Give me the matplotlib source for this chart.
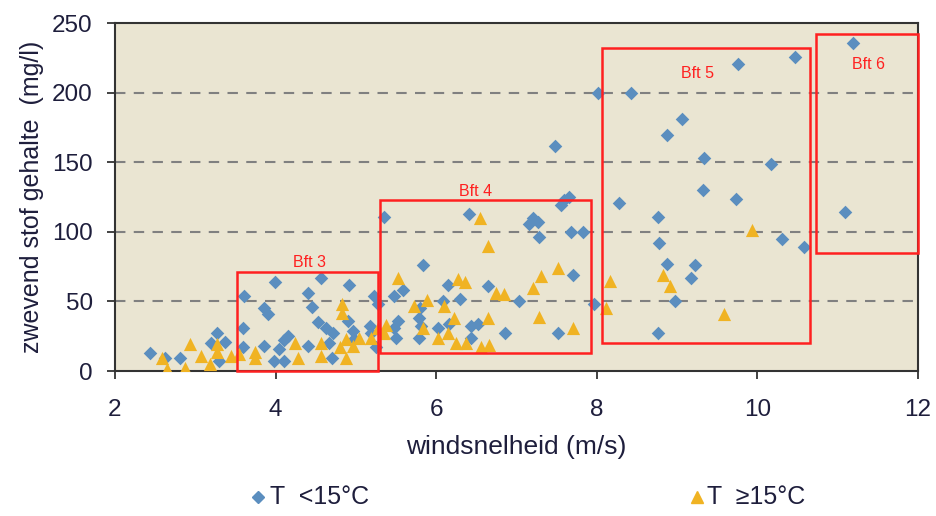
import matplotlib
matplotlib.use("Agg")
import matplotlib.pyplot as plt
from matplotlib.patches import Rectangle
from matplotlib.lines import Line2D

plt.rcParams['font.family'] = ['Liberation Sans', 'DejaVu Sans']

# ================= DATA ===================
# T < 15 C  (wind speed m/s, suspended matter mg/l)
cold_x = [2.44, 2.62, 2.81, 3.27, 3.37, 3.20, 3.30, 3.61, 3.86, 3.91, 3.60, 3.60, 3.86, 3.98,
          3.99, 4.56, 4.91, 4.41, 4.45, 5.23, 5.27, 4.53, 4.63, 4.72, 4.90, 4.97, 5.17, 5.19,
          4.16, 4.11, 4.04, 4.41, 4.67, 4.11, 4.70, 4.98, 5.25, 5.35, 6.41, 5.83, 6.15, 6.30,
          6.65, 5.48, 5.59, 6.09, 5.80, 5.78, 5.53, 5.47, 5.81, 5.78, 6.02, 6.16, 6.43, 6.52,
          6.43, 5.50, 7.59, 7.65, 7.55, 7.20, 7.27, 7.16, 7.28, 7.68, 7.83, 7.71, 7.03, 7.96,
          6.86, 7.52, 7.48, 11.19, 10.47, 9.76, 8.01, 8.43, 9.06, 8.87, 9.34, 10.17, 9.32, 9.74,
          8.28, 8.76, 11.09, 10.31, 10.58, 8.78, 8.87, 9.22, 9.17, 8.98, 8.76]
cold_y = [13, 9, 9, 27, 21, 20, 7, 54, 45, 41, 31, 17, 18, 7,
          64, 67, 62, 56, 46, 54, 48, 35, 31, 27, 36, 29, 32.5, 27,
          25, 22, 16, 18, 20, 7, 9, 23, 17, 111, 113, 76, 62, 52,
          61, 54, 58, 50, 45, 38, 36, 31, 32.5, 24, 31, 34, 32.5, 34,
          24, 24, 123, 125, 119, 110, 107, 106, 96, 100, 100, 69, 50, 48,
          27, 27, 162, 236, 226, 221, 200, 200, 181, 170, 153, 149, 130, 124,
          121, 111, 114, 95, 89, 92, 77, 76, 67, 50, 27]

# T >= 15 C
warm_x = [2.93, 2.58, 2.65, 2.87, 3.07, 3.27, 3.27, 3.18, 3.45, 3.55, 3.75, 3.75, 4.83, 4.83,
          4.24, 4.28, 4.56, 4.56, 4.80, 4.88, 4.88, 5.04, 5.19, 4.97, 5.38, 6.55, 6.65, 5.53,
          6.27, 6.36, 5.72, 5.88, 6.10, 6.22, 5.84, 6.02, 6.15, 6.25, 6.37, 6.56, 6.65, 5.35,
          5.28, 7.52, 7.30, 7.21, 6.75, 6.85, 7.28, 7.71, 6.66, 9.93, 8.16, 8.82, 8.91, 8.11, 9.59]
warm_y = [19.5, 9, 1.5, 2, 11, 19.5, 14, 5, 11, 12, 14, 9, 48, 42,
          20, 9, 20, 11, 17, 23, 9, 24, 24, 18, 33, 110, 90, 67,
          66, 64, 47, 51, 47, 38, 31, 24, 27, 20, 20, 17, 38, 27,
          31, 74, 68, 60, 56, 55, 39, 31, 19, 101, 65, 69, 61, 45, 41]

# Beaufort boxes: label, x0, x1, y0, y1, label position
bft_labels = ['Bft 3', 'Bft 4', 'Bft 5', 'Bft 6']
bft_x0 = [3.52, 5.30, 8.07, 10.73]
bft_x1 = [5.27, 7.93, 10.65, 12.0]
bft_y0 = [0, 13, 20, 85]
bft_y1 = [71, 123, 232, 242]
bft_lab_x = [4.42, 6.49, 9.26, 11.39]
bft_lab_y = [78, 129, 214, 220]

# ================= PLOT ===================
blue = '#5b8ebf'
yellow = '#f0b323'
text_col = '#1e1e3c'

fig = plt.figure(figsize=(9.37, 5.16), dpi=100)
ax = fig.add_axes([0.1227, 0.281, 0.857, 0.674])
ax.set_facecolor('#eae5d2')

for yy in [50, 100, 150, 200]:
    ax.axhline(yy, color='#808080', ls=(0, (5, 4)), lw=1.5, zorder=1)

ax.scatter(cold_x, cold_y, marker='D', s=48, color=blue, zorder=3, linewidths=0)
ax.scatter(warm_x, warm_y, marker='^', s=90, color=yellow, zorder=3, linewidths=0)

for x0, x1, y0, y1 in zip(bft_x0, bft_x1, bft_y0, bft_y1):
    ax.add_patch(Rectangle((x0, y0), x1 - x0, y1 - y0, fill=False,
                           edgecolor='#ff2020', lw=1.8, zorder=4, clip_on=False))
for lab, lx, ly in zip(bft_labels, bft_lab_x, bft_lab_y):
    ax.text(lx, ly, lab, color='#ff2020', fontsize=11.5,
            ha='center', va='center', zorder=5)

ax.set_xlim(2, 12)
ax.set_ylim(0, 250)
ax.set_xticks([2, 4, 6, 8, 10, 12])
ax.set_yticks([0, 50, 100, 150, 200, 250])
ax.tick_params(axis='both', labelsize=17.5, colors='#222222', labelcolor=text_col,
               direction='out', length=6, width=1.2)
ax.tick_params(axis='x', pad=14)
ax.tick_params(axis='y', pad=10)
for side in ['left', 'bottom', 'top', 'right']:
    ax.spines[side].set_color('#333333')
    ax.spines[side].set_linewidth(1.5)

ax.set_xlabel('windsnelheid (m/s)', fontsize=19, color=text_col, labelpad=10)
ax.set_ylabel('zwevend stof gehalte  (mg/l)', fontsize=18, color=text_col, labelpad=6)

# legend drawn by hand at the bottom
leg_y = 0.037
fig.add_artist(Line2D([258 / 937], [leg_y], marker='D', ls='', color=blue,
                      markersize=6.5, transform=fig.transFigure))
fig.text(270 / 937, leg_y, 'T  <15°C', fontsize=18, color=text_col, va='center')
fig.add_artist(Line2D([697 / 937], [leg_y], marker='^', ls='', color=yellow,
                      markersize=8.5, transform=fig.transFigure))
fig.text(707 / 937, leg_y, 'T  ≥15°C', fontsize=18, color=text_col, va='center')

fig.savefig('out.png', dpi=100)
